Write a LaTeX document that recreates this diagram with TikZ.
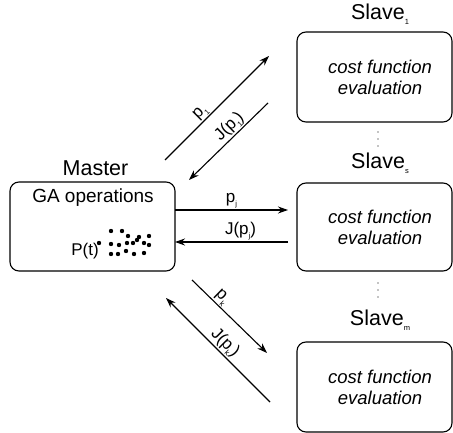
\documentclass[tikz,border=0pt]{standalone}
\usepackage{fontspec}
\setmainfont{Liberation Sans}
\usetikzlibrary{arrows.meta}

\newcommand{\lowidx}[1]{\raisebox{-0.45ex}{\fontsize{7.5}{8}\selectfont #1}}

\begin{document}
\begin{tikzpicture}[
            x = 1pt, y = -1pt, % pixel units, y going down
            > = {Stealth[length=10pt,width=7pt]}, % arrow head style
            line width = 1.1pt, % line style
            box/.style = {draw=black, rounded corners=9pt, inner sep=0pt},
            title/.style = {font=\fontsize{21.5}{24}\selectfont},
            evaltext/.style = {font=\fontsize{18.5}{21}\selectfont\itshape, align=center},
            lbl/.style = {font=\fontsize{17}{19}\selectfont, sloped, above, inner sep=1pt},
            gene/.style = {fill=black, circle, inner sep=0pt, minimum size=4.4pt},
            vdot/.style = {fill=black, circle, inner sep=0pt, minimum size=1.2pt}
        ]
\useasboundingbox (0,0) rectangle (453,433);

% master
\node[box, minimum width=165pt, minimum height=89pt] (master) at (92.5,226.5) {};
\node[title] (mastertitle) at (95.5,168) {Master};
\node[font=\fontsize{19}{21}\selectfont] (gaop) at (93,198) {GA operations};
\node[font=\fontsize{17}{19}\selectfont] (pop) at (85,251) {P(t)};
\foreach \gx/\gy [count=\gi] in {99/243, 111/231, 122/231, 128/236, 139/237, 137/240, 149/236,
                                 111/244, 119/245, 127/243, 133/243, 144/243, 149/245,
                                 111/254, 118/254, 126/251, 134/254, 144/253}
  \node[gene] (g\gi) at (\gx,\gy) {};

% slaves
\node[box, minimum width=155pt, minimum height=90pt] (slave1) at (374.5,77) {};
\node[box, minimum width=155pt, minimum height=88pt] (slaves) at (374.5,227) {};
\node[box, minimum width=155pt, minimum height=90pt] (slavem) at (374.5,387) {};
\node[title] (slave1title) at (380,14) {Slave\lowidx{1}};
\node[title] (slavestitle) at (380,163) {Slave\lowidx{s}};
\node[title] (slavemtitle) at (380,320) {Slave\lowidx{m}};
\node[evaltext] (eval1) at (380,77) {cost function\\evaluation};
\node[evaltext] (evals) at (380,227) {cost function\\evaluation};
\node[evaltext] (evalm) at (380,387) {cost function\\evaluation};

% vertical dots
\foreach \vy [count=\vi] in {132,139,146,283,290,297}
  \node[vdot] (d\vi) at (378,\vy) {};

% connector ends
\coordinate (up1) at (165,160);
\coordinate (up2) at (269,56);
\coordinate (upj1) at (268,103);
\coordinate (upj2) at (189,180);
\coordinate (mid1) at (175,210);
\coordinate (mid2) at (288,210);
\coordinate (midj1) at (288,242);
\coordinate (midj2) at (175,242);
\coordinate (lo1) at (192,280);
\coordinate (lo2) at (267,353);
\coordinate (loj1) at (270,402);
\coordinate (loj2) at (166,298);

\path [->] (up1) edge node[lbl, pos=0.4] {p\lowidx{1}} (up2);
\path [->] (upj1) edge node[lbl, pos=0.4] {J(p\lowidx{1})} (upj2);
\path [->] (mid1) edge node[lbl, pos=0.5] {p\lowidx{j}} (mid2);
\path [->] (midj1) edge node[lbl, pos=0.42] {J(p\lowidx{j})} (midj2);
\path [->] (lo1) edge node[lbl, pos=0.32] {p\lowidx{k}} (lo2);
\path [->] (loj1) edge node[lbl, pos=0.5] {J(p\lowidx{k})} (loj2);
\end{tikzpicture}
\end{document}
